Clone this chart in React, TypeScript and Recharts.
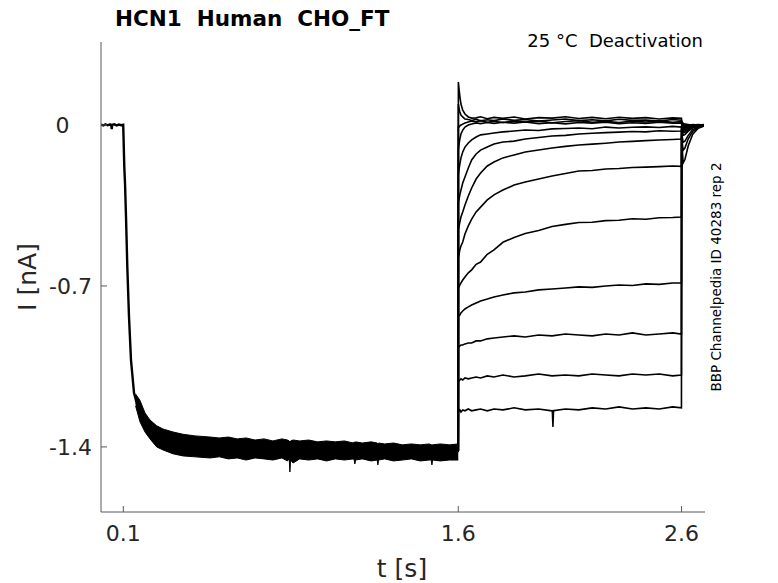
import { ComposedChart, Line, Area, XAxis, YAxis } from 'recharts';

const W = 778;
const H = 583;
const FONT = '"DejaVu Sans", sans-serif';
const INK = '#262626';
const AXIS = '#595959';

const X_TICKS = [0.1, 1.6, 2.6];
const Y_TICKS = [-1.4, -0.7, 0];

// holding + activating step: identical in every sweep
const PRE_T = [0, 0.01, 0.02, 0.03, 0.04, 0.046, 0.048, 0.05, 0.06, 0.07, 0.08, 0.09, 0.0995, 0.1043, 0.1075, 0.112, 0.1178, 0.1254, 0.1343, 0.1478, 0.167, 0.197, 0.2494, 0.339, 0.488, 0.8, 1.2, 1.6];
const PRE_I = [0.002, -0.002, 0.003, -0.001, 0.003, -0.002, -0.018, 0.001, 0.003, -0.002, 0.002, -0.001, 0.001, -0.181, -0.252, -0.399, -0.616, -0.834, -1.022, -1.165, -1.235, -1.29, -1.354, -1.388, -1.402, -1.41, -1.415, -1.42];

// spread of the overlapping sweeps during the activating step (upper / lower edge)
const BAND_T = [0.155, 0.1747, 0.197, 0.2194, 0.2494, 0.2777, 0.3224, 0.3672, 0.421, 0.488, 0.53, 0.57, 0.61, 0.65, 0.69, 0.73, 0.77, 0.81, 0.835, 0.843, 0.846, 0.849, 0.86, 0.89, 0.93, 0.97, 1.01, 1.05, 1.09, 1.13, 1.134, 1.137, 1.14, 1.17, 1.21, 1.237, 1.24, 1.243, 1.27, 1.31, 1.35, 1.39, 1.43, 1.47, 1.479, 1.482, 1.485, 1.52, 1.56, 1.6];
const BAND_HI = [-1.17, -1.198, -1.252, -1.283, -1.308, -1.322, -1.335, -1.345, -1.352, -1.357, -1.361, -1.357, -1.365, -1.361, -1.37, -1.365, -1.374, -1.365, -1.37, -1.374, -1.378, -1.374, -1.37, -1.374, -1.37, -1.378, -1.374, -1.378, -1.374, -1.383, -1.378, -1.383, -1.378, -1.383, -1.378, -1.383, -1.387, -1.383, -1.387, -1.383, -1.391, -1.387, -1.391, -1.387, -1.391, -1.391, -1.391, -1.387, -1.391, -1.387];
const BAND_LO = [-1.222, -1.291, -1.335, -1.365, -1.4, -1.413, -1.43, -1.439, -1.443, -1.448, -1.443, -1.452, -1.448, -1.457, -1.448, -1.452, -1.457, -1.448, -1.461, -1.452, -1.509, -1.457, -1.47, -1.452, -1.457, -1.452, -1.461, -1.452, -1.457, -1.452, -1.457, -1.474, -1.457, -1.452, -1.461, -1.457, -1.478, -1.457, -1.452, -1.461, -1.457, -1.452, -1.461, -1.457, -1.457, -1.478, -1.457, -1.461, -1.457, -1.457];

// deactivating step (1.6 - 2.6 s) and tail back at holding
const POST_T = [1.6, 1.6005, 1.603, 1.607, 1.612, 1.62, 1.63, 1.645, 1.66, 1.68, 1.7, 1.73, 1.76, 1.8, 1.85, 1.9, 1.96, 2.02, 2.08, 2.14, 2.2, 2.26, 2.32, 2.38, 2.44, 2.5, 2.56, 2.5995, 2.6005, 2.603, 2.607, 2.615, 2.63, 2.65, 2.675, 2.7];

const SWEEP_1 = [-1.42, 0.187, 0.161, 0.126, 0.091, 0.065, 0.048, 0.035, 0.03, 0.031, 0.036, 0.027, 0.033, 0.029, 0.035, 0.026, 0.032, 0.03, 0.036, 0.028, 0.033, 0.027, 0.034, 0.029, 0.032, 0.026, 0.031, 0.029, 0.02, 0.012, 0.008, 0.004, 0.002, -0.002, 0.001, 0];
const SWEEP_2 = [-1.42, 0.091, 0.074, 0.057, 0.043, 0.035, 0.026, 0.024, 0.02, 0.025, 0.018, 0.023, 0.019, 0.026, 0.02, 0.024, 0.017, 0.022, 0.026, 0.019, 0.023, 0.018, 0.025, 0.02, 0.022, 0.017, 0.024, 0.021, 0.015, 0.008, 0.003, 0, -0.003, 0.001, -0.001, 0.001];
const SWEEP_3 = [-1.42, -0.004, -0.009, -0.004, 0, 0.004, 0.009, 0.013, 0.017, 0.014, 0.019, 0.012, 0.016, 0.011, 0.018, 0.013, 0.017, 0.01, 0.015, 0.019, 0.012, 0.016, 0.011, 0.017, 0.013, 0.018, 0.012, 0.015, 0.01, 0.004, 0, -0.004, -0.002, 0.002, 0, -0.002];
const SWEEP_4 = [-1.42, -0.109, -0.087, -0.061, -0.039, -0.022, -0.009, 0, 0.004, 0.009, 0.006, 0.011, 0.007, 0.012, 0.008, 0.013, 0.006, 0.01, 0.005, 0.011, 0.008, 0.012, 0.006, 0.01, 0.007, 0.012, 0.008, 0.009, 0.004, 0, -0.004, -0.006, -0.004, 0, 0.002, 0];
const SWEEP_5 = [-1.42, -0.217, -0.196, -0.17, -0.143, -0.117, -0.096, -0.078, -0.065, -0.052, -0.043, -0.039, -0.035, -0.03, -0.026, -0.022, -0.024, -0.017, -0.015, -0.013, -0.016, -0.009, -0.013, -0.01, -0.008, -0.011, -0.006, -0.009, -0.004, -0.009, -0.013, -0.011, -0.006, -0.002, 0, 0.002];
const SWEEP_6 = [-1.42, -0.339, -0.326, -0.304, -0.283, -0.252, -0.226, -0.187, -0.152, -0.126, -0.109, -0.096, -0.083, -0.074, -0.07, -0.061, -0.054, -0.048, -0.045, -0.039, -0.036, -0.033, -0.031, -0.028, -0.03, -0.025, -0.027, -0.026, -0.008, -0.012, -0.016, -0.014, -0.008, -0.004, -0.002, 0];
const SWEEP_7 = [-1.42, -0.457, -0.443, -0.422, -0.4, -0.378, -0.348, -0.309, -0.274, -0.235, -0.209, -0.178, -0.161, -0.143, -0.13, -0.117, -0.109, -0.1, -0.093, -0.087, -0.083, -0.079, -0.074, -0.071, -0.068, -0.065, -0.063, -0.061, -0.01, -0.016, -0.022, -0.02, -0.012, -0.005, -0.002, -0.001];
const SWEEP_8 = [-1.42, -0.578, -0.565, -0.543, -0.526, -0.509, -0.474, -0.439, -0.409, -0.378, -0.357, -0.326, -0.304, -0.283, -0.261, -0.248, -0.235, -0.222, -0.211, -0.2, -0.198, -0.191, -0.189, -0.185, -0.183, -0.181, -0.178, -0.18, -0.012, -0.02, -0.028, -0.025, -0.016, -0.007, -0.003, -0.002];
const SWEEP_9 = [-1.42, -0.709, -0.704, -0.696, -0.687, -0.674, -0.661, -0.643, -0.63, -0.606, -0.596, -0.562, -0.543, -0.51, -0.489, -0.472, -0.459, -0.441, -0.432, -0.424, -0.423, -0.416, -0.414, -0.408, -0.41, -0.403, -0.402, -0.4, -0.015, -0.025, -0.035, -0.032, -0.02, -0.009, -0.004, -0.002];
const SWEEP_10 = [-1.42, -0.835, -0.83, -0.826, -0.817, -0.809, -0.8, -0.791, -0.783, -0.774, -0.765, -0.757, -0.748, -0.739, -0.73, -0.726, -0.717, -0.713, -0.709, -0.704, -0.706, -0.7, -0.696, -0.698, -0.691, -0.693, -0.687, -0.687, -0.018, -0.032, -0.045, -0.042, -0.027, -0.012, -0.005, -0.003];
const SWEEP_11 = [-1.42, -0.965, -0.965, -0.961, -0.957, -0.957, -0.952, -0.948, -0.948, -0.939, -0.939, -0.93, -0.926, -0.922, -0.917, -0.922, -0.913, -0.917, -0.909, -0.913, -0.917, -0.909, -0.913, -0.904, -0.913, -0.909, -0.904, -0.909, -0.025, -0.05, -0.075, -0.07, -0.045, -0.02, -0.008, -0.003];
const SWEEP_12 = [-1.42, -1.109, -1.113, -1.109, -1.104, -1.109, -1.1, -1.104, -1.1, -1.096, -1.1, -1.091, -1.096, -1.087, -1.096, -1.091, -1.083, -1.091, -1.087, -1.091, -1.083, -1.087, -1.091, -1.083, -1.087, -1.083, -1.091, -1.087, -0.035, -0.075, -0.11, -0.1, -0.06, -0.028, -0.01, -0.004];
const SWEEP_13 = [-1.42, -1.239, -1.243, -1.239, -1.248, -1.239, -1.243, -1.235, -1.243, -1.239, -1.235, -1.243, -1.235, -1.239, -1.23, -1.239, -1.235, -1.243, -1.235, -1.239, -1.23, -1.235, -1.226, -1.235, -1.23, -1.235, -1.226, -1.23, -0.05, -0.1, -0.165, -0.15, -0.09, -0.04, -0.014, -0.004];

// artefact on the most negative sweep
const GLITCH_T = [2.021, 2.024, 2.027];
const GLITCH_I = [-1.242, -1.313, -1.24];

const SWEEPS = [SWEEP_1, SWEEP_2, SWEEP_3, SWEEP_4, SWEEP_5, SWEEP_6, SWEEP_7, SWEEP_8, SWEEP_9, SWEEP_10, SWEEP_11, SWEEP_12, SWEEP_13];

const rows = (ts: number[], vs: number[]) => ts.map((t, k) => ({ t, i: vs[k] }));
const preData = rows(PRE_T, PRE_I);
const bandData = BAND_T.map((t, k) => ({ t, band: [BAND_LO[k], BAND_HI[k]] }));
const glitchData = rows(GLITCH_T, GLITCH_I);

// eslint-disable-next-line @typescript-eslint/no-explicit-any
function YTick({ x, y, payload }: any) {
  const v = payload.value;
  const zero = v === 0;
  return (
    <g>
      <line x1={x} y1={y} x2={x + 6} y2={y} stroke={AXIS} strokeWidth={1} />
      <text
        x={zero ? x - 38.5 : x - 9}
        y={y}
        dy="0.36em"
        textAnchor={zero ? 'middle' : 'end'}
        fill={INK}
        style={{ fontFamily: FONT, fontSize: 22 }}
      >
        {zero ? '0' : v.toFixed(1)}
      </text>
    </g>
  );
}

// eslint-disable-next-line @typescript-eslint/no-explicit-any
function XTick({ x, y, payload }: any) {
  return (
    <g>
      <line x1={x} y1={y} x2={x} y2={y - 6} stroke={AXIS} strokeWidth={1} />
      <text x={x} y={y + 21} dy="0.36em" textAnchor="middle" fill={INK} style={{ fontFamily: FONT, fontSize: 22 }}>
        {payload.value.toFixed(1)}
      </text>
    </g>
  );
}

export default function App() {
  return (
    <div style={{ position: 'absolute', left: 0, top: 0, width: W, height: H, background: '#fff', fontFamily: FONT }}>
      <ComposedChart width={W} height={H} margin={{ top: 42, right: 73, bottom: 70, left: 100 }}>
        <XAxis
          dataKey="t"
          type="number"
          domain={[0, 2.705]}
          allowDataOverflow
          ticks={X_TICKS}
          height={1}
          tickSize={0}
          tickMargin={0}
          tickLine={false}
          tick={<XTick />}
          axisLine={{ stroke: AXIS, strokeWidth: 1 }}
        />
        <YAxis
          type="number"
          domain={[-1.683, 0.361]}
          allowDataOverflow
          ticks={Y_TICKS}
          width={1}
          tickSize={0}
          tickMargin={0}
          tickLine={false}
          tick={<YTick />}
          axisLine={{ stroke: AXIS, strokeWidth: 1 }}
        />
        <Area
          data={bandData}
          dataKey="band"
          type="linear"
          stroke="#000"
          strokeWidth={1}
          fill="#000"
          fillOpacity={1}
          isAnimationActive={false}
        />
        <Line data={preData} dataKey="i" type="linear" stroke="#000" strokeWidth={2.4} dot={false} isAnimationActive={false} />
        {SWEEPS.map((s, k) => (
          <Line
            key={k}
            data={rows(POST_T, s)}
            dataKey="i"
            type="linear"
            stroke="#000"
            strokeWidth={1.6}
            dot={false}
            isAnimationActive={false}
          />
        ))}
        <Line data={glitchData} dataKey="i" type="linear" stroke="#000" strokeWidth={1.5} dot={false} isAnimationActive={false} />
      </ComposedChart>

      <div style={{ position: 'absolute', left: 115, top: 19, transform: 'translateY(-50%)', fontSize: 21.5, fontWeight: 'bold', whiteSpace: 'pre', lineHeight: 1, color: '#000' }}>
        HCN1  Human  CHO_FT
      </div>
      <div style={{ position: 'absolute', right: W - 703, top: 41, transform: 'translateY(-50%)', fontSize: 18, whiteSpace: 'pre', lineHeight: 1, color: '#000' }}>
        25 °C  Deactivation
      </div>
      <div style={{ position: 'absolute', left: 27, top: 277, transform: 'translate(-50%, -50%) rotate(-90deg)', fontSize: 25, whiteSpace: 'pre', lineHeight: 1, color: INK }}>
        I [nA]
      </div>
      <div style={{ position: 'absolute', left: 402, top: 568, transform: 'translate(-50%, -50%)', fontSize: 25, whiteSpace: 'pre', lineHeight: 1, color: INK }}>
        t [s]
      </div>
      <div style={{ position: 'absolute', left: 717, top: 277, transform: 'translate(-50%, -50%) rotate(-90deg)', fontSize: 13.5, whiteSpace: 'pre', lineHeight: 1, color: '#000' }}>
        BBP Channelpedia ID 40283 rep 2
      </div>
    </div>
  );
}
